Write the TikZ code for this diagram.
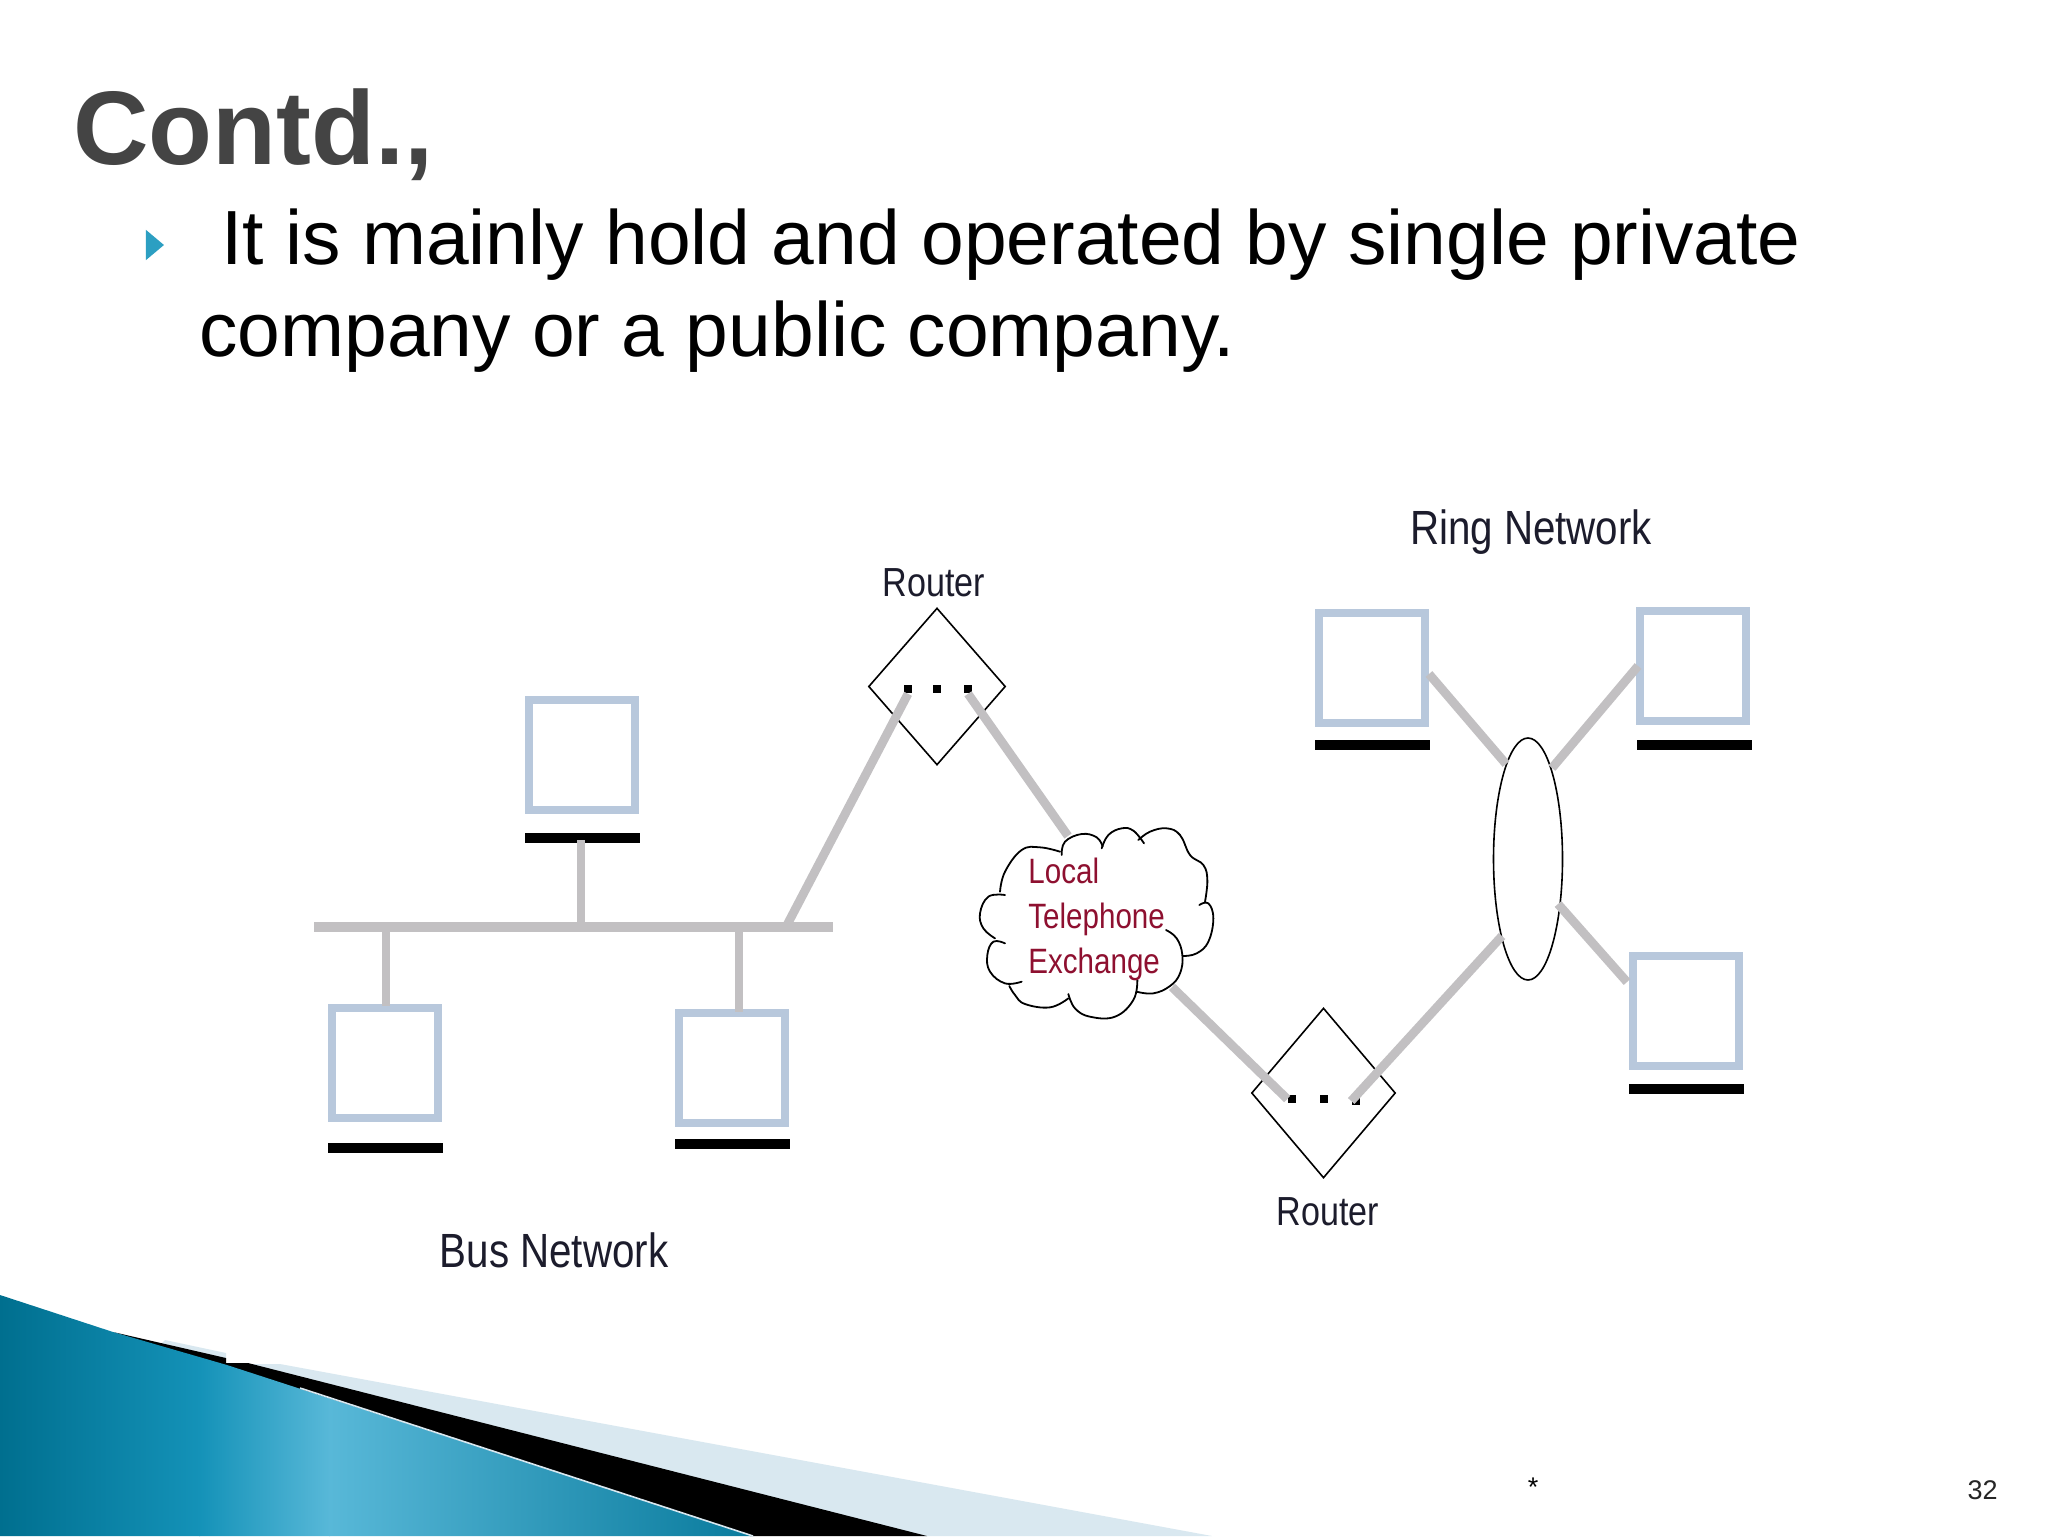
\documentclass[tikz,border=0pt]{standalone}
\usepackage{fontspec}
\setmainfont{Liberation Sans}
\newfontfamily\narrowf[FakeStretch=0.84]{Liberation Sans}
\usetikzlibrary{shapes.geometric}
\definecolor{titlegray}{HTML}{444444}
\definecolor{compblue}{HTML}{B8C8DC}
\definecolor{linkgray}{HTML}{C2C0C2}
\definecolor{redtext}{HTML}{8E1030}
\definecolor{labeltext}{HTML}{1C1C2C}
\definecolor{bullet}{HTML}{2C9FC2}
\definecolor{paleblue}{HTML}{D9E8F0}
\definecolor{tealdark}{HTML}{006F8F}
\definecolor{tealbright}{HTML}{1492B8}
\definecolor{teallight}{HTML}{58B8D8}
\definecolor{tealmid}{HTML}{087A9C}
\tikzset{
  computer/.style={draw=compblue,line width=4.2pt,fill=white,inner sep=0,minimum width=53.2pt,minimum height=55pt},
  basebar/.style={fill=black,inner sep=0,minimum width=57.5pt,minimum height=5pt},
  busbar/.style={fill=linkgray,inner sep=0,minimum width=259.5pt,minimum height=5pt},
  stub/.style={draw=linkgray,line width=4pt},
  link/.style={draw=linkgray,line width=4.4pt},
  router/.style={draw=black,shape=diamond,line width=.8pt,inner sep=0,fill=white},
  rdot/.style={fill=black,inner sep=0,minimum width=4.4pt,minimum height=4.4pt},
  netlabel/.style={inner sep=0,text=labeltext,font=\narrowf\fontsize{20.3}{20.3}\selectfont},
  cloudtext/.style={inner sep=0,anchor=base west,text=redtext,font=\narrowf\fontsize{17.6}{17.6}\selectfont},
  cloudline/.style={draw=black,line width=.9pt,line cap=round},
}
\begin{document}
\begin{tikzpicture}[x=.5pt,y=-.5pt]
\useasboundingbox (0,0) rectangle (2048,1536);
\fill[white] (0,0) rectangle (2048,1536);
% decorative wedge
\fill[paleblue] (165,1340) -- (226,1353) -- (226,1360) -- (160,1345) -- cycle;
\fill[paleblue] (250,1364) -- (280,1364) -- (1212,1536) -- (900,1536) -- cycle;
\fill[black] (113,1332) -- (226,1358) -- (226,1363) -- (248,1363) -- (927,1536) -- (750,1536) -- cycle;
\begin{scope}
\clip (0,1295) -- (113,1332) -- (227,1365) -- (753,1536) -- (0,1536) -- cycle;
\shade[left color=tealdark,right color=tealbright] (0,1290) rectangle (200,1536);
\shade[left color=tealbright,right color=teallight] (199,1290) rectangle (330,1536);
\shade[left color=teallight,right color=tealmid] (329,1290) rectangle (760,1536);
\end{scope}
\draw[paleblue,line width=.8pt] (300,1388) -- (753,1536);
% texts
\node[inner sep=0,anchor=base west,text=titlegray,font=\bfseries\fontsize{52.3}{52.3}\selectfont] (title) at (73,164) {Contd.,};
\node[fill=bullet,isosceles triangle,isosceles triangle apex angle=80,inner sep=0,minimum height=9pt,minimum width=11pt] (mark) at (153,245) {};
\node[inner sep=0,anchor=base west,font=\fontsize{38.4}{38.4}\selectfont] (line1) at (221,264.5) {It is mainly hold and operated by single private};
\node[inner sep=0,anchor=base west,font=\fontsize{38.4}{38.4}\selectfont] (line2) at (199,356.5) {company or a public company.};
% bus network
\node[busbar] (bus) at (573.5,927) {};
\node[computer] (pcT) at (582,755) {};
\node[basebar] (barT) at (582,838) {};
\node[computer] (pcL) at (385,1063) {};
\node[basebar] (barL) at (385,1148) {};
\node[computer] (pcR) at (732,1068) {};
\node[basebar] (barR) at (732,1144) {};
\coordinate (tapT) at (581,927);
\coordinate (tapL) at (386,927);
\coordinate (tapR) at (739,927);
\coordinate (pcLtop) at (386,1006);
\coordinate (pcRtop) at (739,1012);
\coordinate (barTlow) at (581,840);
\draw[stub] (barTlow) -- (tapT);
\draw[stub] (tapL) -- (pcLtop);
\draw[stub] (tapR) -- (pcRtop);
% routers
\node[router,minimum width=68.5pt,minimum height=78.5pt] (r1) at (937,686.5) {};
\node[router,minimum width=72pt,minimum height=85pt] (r2) at (1323.5,1093) {};
% ring network
\node[draw=black,line width=.8pt,shape=ellipse,inner sep=0,minimum width=34.5pt,minimum height=121pt,fill=white] (ring) at (1528,859) {};
\node[computer] (pcA) at (1372,668) {};
\node[basebar] (barA) at (1372,745) {};
\node[computer] (pcB) at (1693,666) {};
\node[basebar] (barB) at (1694,745) {};
\node[computer] (pcC) at (1686,1011) {};
\node[basebar] (barC) at (1686,1089) {};
% links
\node[rdot] (d11) at (908,689) {};
\node[rdot] (d12) at (937,689) {};
\node[rdot] (d13) at (968,689) {};
\node[rdot] (d21) at (1292,1099) {};
\node[rdot] (d22) at (1324,1099) {};
\node[rdot] (d23) at (1356,1101) {};
\coordinate (busT) at (787,925);
\coordinate (cloudN) at (1068,836);
\coordinate (cloudS) at (1172,987);
\coordinate (ringSW) at (1502,936);
\coordinate (a1) at (1429,674);
\coordinate (a2) at (1506,764);
\coordinate (b1) at (1638,666);
\coordinate (b2) at (1552,768);
\coordinate (c1) at (1627,982);
\coordinate (c2) at (1558,904);
\draw[link] (busT) -- (d11.south);
\draw[link] (d13.south) -- (cloudN);
\draw[link] (cloudS) -- (d21.west);
\draw[link] (d23.west) -- (ringSW);
\draw[link] (a1) -- (a2);
\draw[link] (b1) -- (b2);
\draw[link] (c1) -- (c2);
% cloud
\begin{scope}[shift={(950,800)},x=.1666667pt,y=-.1666667pt]
\fill[white] (335,150) -- (395,100) -- (515,85) -- (640,85) -- (770,215) -- (790,360) -- (700,465) -- (660,555) -- (490,650) -- (355,590) -- (215,610) -- (115,510) -- (90,350) -- (170,200) -- cycle;
\draw[cloudline] plot[smooth,tension=.7] coordinates {(335,165) (345,125) (395,102) (440,112) (458,140)};
\draw[cloudline] plot[smooth,tension=.7] coordinates {(455,145) (475,105) (515,85) (550,92) (582,130)};
\draw[cloudline] plot[smooth,tension=.7] coordinates {(565,120) (600,95) (650,85) (690,105) (720,165) (760,195) (772,240) (765,305)};
\draw[cloudline] plot[smooth,tension=.7] coordinates {(748,315) (775,310) (790,355) (775,425) (740,460) (700,468)};
\draw[cloudline] plot[smooth,tension=.7] coordinates {(648,390) (680,415) (697,465) (690,520) (660,558) (610,580) (560,575)};
\draw[cloudline] plot[smooth,tension=.7] coordinates {(562,540) (550,600) (495,650) (420,650) (375,625) (355,582)};
\draw[cloudline] plot[smooth,tension=.7] coordinates {(355,595) (300,622) (225,612) (195,585) (178,558)};
\draw[cloudline] plot[smooth,tension=.7] coordinates {(215,545) (165,550) (120,515) (112,465) (130,425) (165,430)};
\draw[cloudline] plot[smooth,tension=.7] coordinates {(135,415) (100,385) (90,340) (115,290) (165,285)};
\draw[cloudline] plot[smooth,tension=.7] coordinates {(150,275) (165,215) (215,150) (270,142) (330,155)};
\end{scope}
\node[cloudtext] (tx1) at (1028,883) {Local};
\node[cloudtext] (tx2) at (1028,928) {Telephone};
\node[cloudtext] (tx3) at (1028,973) {Exchange};
% labels
\node[netlabel] (lr1) at (934,583) {Router};
\node[netlabel] (lr2) at (1328,1212) {Router};
\node[netlabel,font=\narrowf\fontsize{24}{24}\selectfont] (lring) at (1531,532) {Ring Network};
\node[netlabel,font=\narrowf\fontsize{24}{24}\selectfont] (lbus) at (554,1250) {Bus Network};
% footer
\node[inner sep=0,font=\fontsize{13.5}{13.5}\selectfont] (star) at (1533,1487) {*};
\node[inner sep=0,anchor=base east,font=\fontsize{13.5}{13.5}\selectfont,text=black!85] (pageno) at (1998,1499) {32};
\end{tikzpicture}
\end{document}
